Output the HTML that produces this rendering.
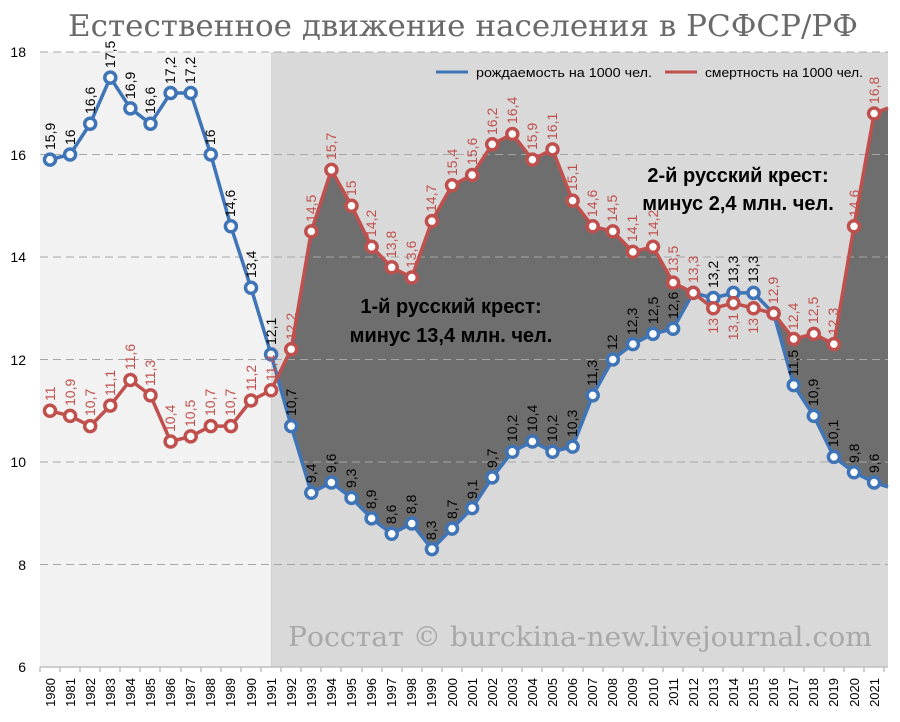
<!DOCTYPE html>
<html><head><meta charset="utf-8"><style>body{margin:0;background:#fff}svg{display:block}</style></head><body>
<svg width="900" height="722" xmlns="http://www.w3.org/2000/svg" font-family="Liberation Sans, sans-serif">
<rect width="900" height="722" fill="#fff"/>
<text x="68" y="36" textLength="790" lengthAdjust="spacingAndGlyphs" font-family="DejaVu Serif, serif" font-size="30" fill="#6a6a6a">Естественное движение населения в РСФСР/РФ</text>
<rect x="40" y="52" width="231" height="615" fill="#f2f2f2"/>
<rect x="271" y="52" width="617" height="615" fill="#d9d9d9"/>
<polygon fill="#6e6e6e" points="271.1,667 271.1,390.3 291.2,349.2 311.3,231.4 331.4,169.9 351.5,205.8 371.6,246.8 391.7,267.3 411.8,277.5 431.9,221.1 452,185.3 472.1,175 492.2,144.3 512.3,134 532.4,159.6 552.5,149.4 572.6,200.6 592.7,226.3 612.8,231.4 632.9,251.9 653,246.8 673.1,282.6 693.2,292.9 713.3,308.3 733.4,303.1 753.5,308.3 773.6,313.4 793.7,339 813.8,333.9 833.9,344.1 854,226.3 874.1,113.5 888,108 888,667"/>
<polygon fill="#d9d9d9" points="271.1,667 271.1,354.4 291.2,426.1 311.3,492.8 331.4,482.5 351.5,497.9 371.6,518.4 391.7,533.8 411.8,523.5 431.9,549.1 452,528.6 472.1,508.1 492.2,477.4 512.3,451.8 532.4,441.5 552.5,451.8 572.6,446.6 592.7,395.4 612.8,359.5 632.9,344.1 653,333.9 673.1,328.8 693.2,292.9 713.3,298 733.4,292.9 753.5,292.9 773.6,313.4 793.7,385.1 813.8,415.9 833.9,456.9 854,472.3 874.1,482.5 888,487 888,667"/>
<g stroke="#a6a6a6" stroke-dasharray="8,5" stroke-width="1">
<line x1="40" y1="52" x2="888" y2="52"/><line x1="40" y1="154.5" x2="888" y2="154.5"/><line x1="40" y1="257" x2="888" y2="257"/><line x1="40" y1="359.5" x2="888" y2="359.5"/><line x1="40" y1="462" x2="888" y2="462"/><line x1="40" y1="564.5" x2="888" y2="564.5"/>
</g>
<line x1="40" y1="667" x2="888" y2="667" stroke="#bfbfbf" stroke-width="1.5"/>
<g font-size="14" fill="#000" text-anchor="end">
<text x="26" y="57">18</text><text x="26" y="160">16</text><text x="26" y="262">14</text><text x="26" y="365">12</text><text x="26" y="467">10</text><text x="26" y="570">8</text><text x="26" y="672">6</text>
</g>
<text x="288" y="646" textLength="584" lengthAdjust="spacingAndGlyphs" font-family="DejaVu Serif, serif" font-size="27" fill="#a8a8a8">Росстат © burckina-new.livejournal.com</text>
<g font-size="20" font-weight="bold" fill="#000" text-anchor="middle">
<text x="451" y="313">1-й русский крест:</text><text x="451" y="342">минус 13,4 млн. чел.</text>
<text x="738" y="182">2-й русский крест:</text><text x="738" y="210">минус 2,4 млн. чел.</text>
</g>
<line x1="436" y1="72" x2="468" y2="72" stroke="#3f74b6" stroke-width="3"/>
<text x="476" y="77" font-size="13" textLength="176" lengthAdjust="spacingAndGlyphs">рождаемость на 1000 чел.</text>
<line x1="665" y1="72" x2="697" y2="72" stroke="#c0504d" stroke-width="3"/>
<text x="705" y="77" font-size="13" textLength="158" lengthAdjust="spacingAndGlyphs">смертность на 1000 чел.</text>
<polyline fill="none" stroke="#3f74b6" stroke-width="3.5" stroke-linejoin="round" points="50,159.6 70.1,154.5 90.2,123.7 110.3,77.6 130.4,108.4 150.5,123.7 170.6,93 190.7,93 210.8,154.5 230.9,226.3 251,287.8 271.1,354.4 291.2,426.1 311.3,492.8 331.4,482.5 351.5,497.9 371.6,518.4 391.7,533.8 411.8,523.5 431.9,549.1 452,528.6 472.1,508.1 492.2,477.4 512.3,451.8 532.4,441.5 552.5,451.8 572.6,446.6 592.7,395.4 612.8,359.5 632.9,344.1 653,333.9 673.1,328.8 693.2,292.9 713.3,298 733.4,292.9 753.5,292.9 773.6,313.4 793.7,385.1 813.8,415.9 833.9,456.9 854,472.3 874.1,482.5 888,487"/>
<polyline fill="none" stroke="#c0504d" stroke-width="3.5" stroke-linejoin="round" points="50,410.8 70.1,415.9 90.2,426.1 110.3,405.6 130.4,380 150.5,395.4 170.6,441.5 190.7,436.4 210.8,426.1 230.9,426.1 251,400.5 271.1,390.3 291.2,349.2 311.3,231.4 331.4,169.9 351.5,205.8 371.6,246.8 391.7,267.3 411.8,277.5 431.9,221.1 452,185.3 472.1,175 492.2,144.3 512.3,134 532.4,159.6 552.5,149.4 572.6,200.6 592.7,226.3 612.8,231.4 632.9,251.9 653,246.8 673.1,282.6 693.2,292.9 713.3,308.3 733.4,303.1 753.5,308.3 773.6,313.4 793.7,339 813.8,333.9 833.9,344.1 854,226.3 874.1,113.5 888,108"/>
<g fill="#fff" stroke="#3f74b6" stroke-width="3.5">
<circle cx="50" cy="159.6" r="5.5"/><circle cx="70.1" cy="154.5" r="5.5"/><circle cx="90.2" cy="123.7" r="5.5"/><circle cx="110.3" cy="77.6" r="5.5"/><circle cx="130.4" cy="108.4" r="5.5"/><circle cx="150.5" cy="123.7" r="5.5"/><circle cx="170.6" cy="93" r="5.5"/><circle cx="190.7" cy="93" r="5.5"/><circle cx="210.8" cy="154.5" r="5.5"/><circle cx="230.9" cy="226.3" r="5.5"/><circle cx="251" cy="287.8" r="5.5"/><circle cx="271.1" cy="354.4" r="5.5"/><circle cx="291.2" cy="426.1" r="5.5"/><circle cx="311.3" cy="492.8" r="5.5"/><circle cx="331.4" cy="482.5" r="5.5"/><circle cx="351.5" cy="497.9" r="5.5"/><circle cx="371.6" cy="518.4" r="5.5"/><circle cx="391.7" cy="533.8" r="5.5"/><circle cx="411.8" cy="523.5" r="5.5"/><circle cx="431.9" cy="549.1" r="5.5"/><circle cx="452" cy="528.6" r="5.5"/><circle cx="472.1" cy="508.1" r="5.5"/><circle cx="492.2" cy="477.4" r="5.5"/><circle cx="512.3" cy="451.8" r="5.5"/><circle cx="532.4" cy="441.5" r="5.5"/><circle cx="552.5" cy="451.8" r="5.5"/><circle cx="572.6" cy="446.6" r="5.5"/><circle cx="592.7" cy="395.4" r="5.5"/><circle cx="612.8" cy="359.5" r="5.5"/><circle cx="632.9" cy="344.1" r="5.5"/><circle cx="653" cy="333.9" r="5.5"/><circle cx="673.1" cy="328.8" r="5.5"/><circle cx="693.2" cy="292.9" r="5.5"/><circle cx="713.3" cy="298" r="5.5"/><circle cx="733.4" cy="292.9" r="5.5"/><circle cx="753.5" cy="292.9" r="5.5"/><circle cx="773.6" cy="313.4" r="5.5"/><circle cx="793.7" cy="385.1" r="5.5"/><circle cx="813.8" cy="415.9" r="5.5"/><circle cx="833.9" cy="456.9" r="5.5"/><circle cx="854" cy="472.3" r="5.5"/><circle cx="874.1" cy="482.5" r="5.5"/>
</g>
<g fill="#fff" stroke="#c0504d" stroke-width="3.5">
<circle cx="50" cy="410.8" r="5.5"/><circle cx="70.1" cy="415.9" r="5.5"/><circle cx="90.2" cy="426.1" r="5.5"/><circle cx="110.3" cy="405.6" r="5.5"/><circle cx="130.4" cy="380" r="5.5"/><circle cx="150.5" cy="395.4" r="5.5"/><circle cx="170.6" cy="441.5" r="5.5"/><circle cx="190.7" cy="436.4" r="5.5"/><circle cx="210.8" cy="426.1" r="5.5"/><circle cx="230.9" cy="426.1" r="5.5"/><circle cx="251" cy="400.5" r="5.5"/><circle cx="271.1" cy="390.3" r="5.5"/><circle cx="291.2" cy="349.2" r="5.5"/><circle cx="311.3" cy="231.4" r="5.5"/><circle cx="331.4" cy="169.9" r="5.5"/><circle cx="351.5" cy="205.8" r="5.5"/><circle cx="371.6" cy="246.8" r="5.5"/><circle cx="391.7" cy="267.3" r="5.5"/><circle cx="411.8" cy="277.5" r="5.5"/><circle cx="431.9" cy="221.1" r="5.5"/><circle cx="452" cy="185.3" r="5.5"/><circle cx="472.1" cy="175" r="5.5"/><circle cx="492.2" cy="144.3" r="5.5"/><circle cx="512.3" cy="134" r="5.5"/><circle cx="532.4" cy="159.6" r="5.5"/><circle cx="552.5" cy="149.4" r="5.5"/><circle cx="572.6" cy="200.6" r="5.5"/><circle cx="592.7" cy="226.3" r="5.5"/><circle cx="612.8" cy="231.4" r="5.5"/><circle cx="632.9" cy="251.9" r="5.5"/><circle cx="653" cy="246.8" r="5.5"/><circle cx="673.1" cy="282.6" r="5.5"/><circle cx="693.2" cy="292.9" r="5.5"/><circle cx="713.3" cy="308.3" r="5.5"/><circle cx="733.4" cy="303.1" r="5.5"/><circle cx="753.5" cy="308.3" r="5.5"/><circle cx="773.6" cy="313.4" r="5.5"/><circle cx="793.7" cy="339" r="5.5"/><circle cx="813.8" cy="333.9" r="5.5"/><circle cx="833.9" cy="344.1" r="5.5"/><circle cx="854" cy="226.3" r="5.5"/><circle cx="874.1" cy="113.5" r="5.5"/>
</g>
<g font-size="14" fill="#000">
<text transform="translate(55,150) rotate(-90)">15,9</text><text transform="translate(75,145) rotate(-90)">16</text><text transform="translate(95,114) rotate(-90)">16,6</text><text transform="translate(115,68) rotate(-90)">17,5</text><text transform="translate(135,99) rotate(-90)">16,9</text><text transform="translate(155,114) rotate(-90)">16,6</text><text transform="translate(175,84) rotate(-90)">17,2</text><text transform="translate(195,84) rotate(-90)">17,2</text><text transform="translate(215,145) rotate(-90)">16</text><text transform="translate(235,217) rotate(-90)">14,6</text><text transform="translate(256,278) rotate(-90)">13,4</text><text transform="translate(276,345) rotate(-90)">12,1</text><text transform="translate(296,416) rotate(-90)">10,7</text><text transform="translate(316,483) rotate(-90)">9,4</text><text transform="translate(336,473) rotate(-90)">9,6</text><text transform="translate(356,488) rotate(-90)">9,3</text><text transform="translate(376,509) rotate(-90)">8,9</text><text transform="translate(396,524) rotate(-90)">8,6</text><text transform="translate(416,514) rotate(-90)">8,8</text><text transform="translate(436,540) rotate(-90)">8,3</text><text transform="translate(457,519) rotate(-90)">8,7</text><text transform="translate(477,499) rotate(-90)">9,1</text><text transform="translate(497,468) rotate(-90)">9,7</text><text transform="translate(517,442) rotate(-90)">10,2</text><text transform="translate(537,432) rotate(-90)">10,4</text><text transform="translate(557,442) rotate(-90)">10,2</text><text transform="translate(577,437) rotate(-90)">10,3</text><text transform="translate(597,386) rotate(-90)">11,3</text><text transform="translate(617,350) rotate(-90)">12</text><text transform="translate(637,335) rotate(-90)">12,3</text><text transform="translate(658,324) rotate(-90)">12,5</text><text transform="translate(678,319) rotate(-90)">12,6</text><text transform="translate(718,288) rotate(-90)">13,2</text><text transform="translate(738,283) rotate(-90)">13,3</text><text transform="translate(758,283) rotate(-90)">13,3</text><text transform="translate(798,376) rotate(-90)">11,5</text><text transform="translate(818,406) rotate(-90)">10,9</text><text transform="translate(838,447) rotate(-90)">10,1</text><text transform="translate(859,463) rotate(-90)">9,8</text><text transform="translate(879,473) rotate(-90)">9,6</text>
</g>
<g font-size="14" fill="#c0504d">
<text transform="translate(55,401) rotate(-90)">11</text><text transform="translate(75,406) rotate(-90)">10,9</text><text transform="translate(95,416) rotate(-90)">10,7</text><text transform="translate(115,396) rotate(-90)">11,1</text><text transform="translate(135,370) rotate(-90)">11,6</text><text transform="translate(155,386) rotate(-90)">11,3</text><text transform="translate(175,432) rotate(-90)">10,4</text><text transform="translate(195,427) rotate(-90)">10,5</text><text transform="translate(215,416) rotate(-90)">10,7</text><text transform="translate(235,416) rotate(-90)">10,7</text><text transform="translate(256,391) rotate(-90)">11,2</text><text transform="translate(276,381) rotate(-90)">11,4</text><text transform="translate(296,340) rotate(-90)">12,2</text><text transform="translate(316,222) rotate(-90)">14,5</text><text transform="translate(336,160) rotate(-90)">15,7</text><text transform="translate(356,196) rotate(-90)">15</text><text transform="translate(376,237) rotate(-90)">14,2</text><text transform="translate(396,258) rotate(-90)">13,8</text><text transform="translate(416,268) rotate(-90)">13,6</text><text transform="translate(436,212) rotate(-90)">14,7</text><text transform="translate(457,176) rotate(-90)">15,4</text><text transform="translate(477,165) rotate(-90)">15,6</text><text transform="translate(497,135) rotate(-90)">16,2</text><text transform="translate(517,124) rotate(-90)">16,4</text><text transform="translate(537,150) rotate(-90)">15,9</text><text transform="translate(557,140) rotate(-90)">16,1</text><text transform="translate(577,191) rotate(-90)">15,1</text><text transform="translate(597,217) rotate(-90)">14,6</text><text transform="translate(617,222) rotate(-90)">14,5</text><text transform="translate(637,242) rotate(-90)">14,1</text><text transform="translate(658,237) rotate(-90)">14,2</text><text transform="translate(678,273) rotate(-90)">13,5</text><text transform="translate(698,283) rotate(-90)">13,3</text><text transform="translate(718,318) rotate(-90)" text-anchor="end">13</text><text transform="translate(738,313) rotate(-90)" text-anchor="end">13,1</text><text transform="translate(758,318) rotate(-90)" text-anchor="end">13</text><text transform="translate(778,304) rotate(-90)">12,9</text><text transform="translate(798,330) rotate(-90)">12,4</text><text transform="translate(818,324) rotate(-90)">12,5</text><text transform="translate(838,335) rotate(-90)">12,3</text><text transform="translate(859,217) rotate(-90)">14,6</text><text transform="translate(879,104) rotate(-90)">16,8</text>
</g>
<g stroke="#bfbfbf" stroke-width="1.5">
<line x1="40" y1="667" x2="40" y2="672"/><line x1="60" y1="667" x2="60" y2="672"/><line x1="80" y1="667" x2="80" y2="672"/><line x1="100" y1="667" x2="100" y2="672"/><line x1="120" y1="667" x2="120" y2="672"/><line x1="140" y1="667" x2="140" y2="672"/><line x1="160" y1="667" x2="160" y2="672"/><line x1="181" y1="667" x2="181" y2="672"/><line x1="201" y1="667" x2="201" y2="672"/><line x1="221" y1="667" x2="221" y2="672"/><line x1="241" y1="667" x2="241" y2="672"/><line x1="261" y1="667" x2="261" y2="672"/><line x1="281" y1="667" x2="281" y2="672"/><line x1="301" y1="667" x2="301" y2="672"/><line x1="321" y1="667" x2="321" y2="672"/><line x1="341" y1="667" x2="341" y2="672"/><line x1="362" y1="667" x2="362" y2="672"/><line x1="382" y1="667" x2="382" y2="672"/><line x1="402" y1="667" x2="402" y2="672"/><line x1="422" y1="667" x2="422" y2="672"/><line x1="442" y1="667" x2="442" y2="672"/><line x1="462" y1="667" x2="462" y2="672"/><line x1="482" y1="667" x2="482" y2="672"/><line x1="502" y1="667" x2="502" y2="672"/><line x1="522" y1="667" x2="522" y2="672"/><line x1="542" y1="667" x2="542" y2="672"/><line x1="563" y1="667" x2="563" y2="672"/><line x1="583" y1="667" x2="583" y2="672"/><line x1="603" y1="667" x2="603" y2="672"/><line x1="623" y1="667" x2="623" y2="672"/><line x1="643" y1="667" x2="643" y2="672"/><line x1="663" y1="667" x2="663" y2="672"/><line x1="683" y1="667" x2="683" y2="672"/><line x1="703" y1="667" x2="703" y2="672"/><line x1="723" y1="667" x2="723" y2="672"/><line x1="743" y1="667" x2="743" y2="672"/><line x1="764" y1="667" x2="764" y2="672"/><line x1="784" y1="667" x2="784" y2="672"/><line x1="804" y1="667" x2="804" y2="672"/><line x1="824" y1="667" x2="824" y2="672"/><line x1="844" y1="667" x2="844" y2="672"/><line x1="864" y1="667" x2="864" y2="672"/><line x1="884" y1="667" x2="884" y2="672"/>
</g>
<g font-size="13" fill="#000" text-anchor="end">
<text transform="translate(55,678) rotate(-90)">1980</text><text transform="translate(75,678) rotate(-90)">1981</text><text transform="translate(95,678) rotate(-90)">1982</text><text transform="translate(115,678) rotate(-90)">1983</text><text transform="translate(135,678) rotate(-90)">1984</text><text transform="translate(155,678) rotate(-90)">1985</text><text transform="translate(175,678) rotate(-90)">1986</text><text transform="translate(195,678) rotate(-90)">1987</text><text transform="translate(215,678) rotate(-90)">1988</text><text transform="translate(235,678) rotate(-90)">1989</text><text transform="translate(256,678) rotate(-90)">1990</text><text transform="translate(276,678) rotate(-90)">1991</text><text transform="translate(296,678) rotate(-90)">1992</text><text transform="translate(316,678) rotate(-90)">1993</text><text transform="translate(336,678) rotate(-90)">1994</text><text transform="translate(356,678) rotate(-90)">1995</text><text transform="translate(376,678) rotate(-90)">1996</text><text transform="translate(396,678) rotate(-90)">1997</text><text transform="translate(416,678) rotate(-90)">1998</text><text transform="translate(436,678) rotate(-90)">1999</text><text transform="translate(457,678) rotate(-90)">2000</text><text transform="translate(477,678) rotate(-90)">2001</text><text transform="translate(497,678) rotate(-90)">2002</text><text transform="translate(517,678) rotate(-90)">2003</text><text transform="translate(537,678) rotate(-90)">2004</text><text transform="translate(557,678) rotate(-90)">2005</text><text transform="translate(577,678) rotate(-90)">2006</text><text transform="translate(597,678) rotate(-90)">2007</text><text transform="translate(617,678) rotate(-90)">2008</text><text transform="translate(637,678) rotate(-90)">2009</text><text transform="translate(658,678) rotate(-90)">2010</text><text transform="translate(678,678) rotate(-90)">2011</text><text transform="translate(698,678) rotate(-90)">2012</text><text transform="translate(718,678) rotate(-90)">2013</text><text transform="translate(738,678) rotate(-90)">2014</text><text transform="translate(758,678) rotate(-90)">2015</text><text transform="translate(778,678) rotate(-90)">2016</text><text transform="translate(798,678) rotate(-90)">2017</text><text transform="translate(818,678) rotate(-90)">2018</text><text transform="translate(838,678) rotate(-90)">2019</text><text transform="translate(859,678) rotate(-90)">2020</text><text transform="translate(879,678) rotate(-90)">2021</text>
</g>
</svg>
</body></html>
